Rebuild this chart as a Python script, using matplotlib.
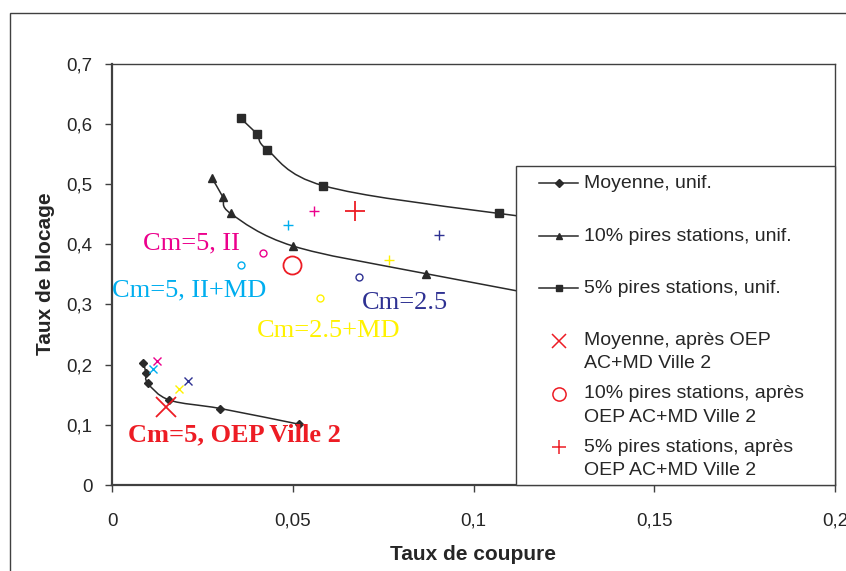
import numpy as np
import matplotlib
matplotlib.use("Agg")
import matplotlib.pyplot as plt
from matplotlib.path import Path
from matplotlib.patches import PathPatch, Rectangle
from matplotlib.lines import Line2D
from matplotlib.ticker import FuncFormatter

# ---------------- data ----------------
moy_x = [0.0087, 0.0094, 0.0099, 0.0159, 0.0300, 0.0517]
moy_y = [0.203, 0.186, 0.169, 0.141, 0.127, 0.101]
p10_x = [0.0276, 0.0306, 0.0328, 0.0500, 0.0868, 0.150]
p10_y = [0.510, 0.479, 0.451, 0.397, 0.351, 0.280]
p5_x = [0.0356, 0.0400, 0.0429, 0.0585, 0.1070, 0.180]
p5_y = [0.609, 0.583, 0.557, 0.497, 0.451, 0.400]

series_labels = ["Moyenne, unif.", "10% pires stations, unif.", "5% pires stations, unif."]
after_labels = ["Moyenne, après OEP\nAC+MD Ville 2",
                "10% pires stations, après\nOEP AC+MD Ville 2",
                "5% pires stations, après\nOEP AC+MD Ville 2"]

# configurations after OEP: (moyenne x, y), (10% x, y), (5% x, y)
cfg_names = ["Cm=5, OEP Ville 2", "Cm=5, II", "Cm=5, II+MD", "Cm=2.5+MD", "Cm=2.5"]
cfg_moy_x = [0.0149, 0.0125, 0.0114, 0.0185, 0.0209]
cfg_moy_y = [0.129, 0.206, 0.193, 0.160, 0.173]
cfg_p10_x = [0.0497, 0.0417, 0.0356, 0.0574, 0.0683]
cfg_p10_y = [0.365, 0.386, 0.365, 0.310, 0.345]
cfg_p5_x = [0.0672, 0.0560, 0.0488, 0.0765, 0.0905]
cfg_p5_y = [0.455, 0.455, 0.431, 0.374, 0.416]
# label anchor (left, baseline) in data units
cfg_lab_x = [0.0045, 0.0086, 0.0000, 0.0400, 0.0691]
cfg_lab_y = [0.072, 0.391, 0.313, 0.246, 0.292]

cfg_colors = ["#ED1C24", "#EC008C", "#00AEEF", "#FFF200", "#2E3192"]
cfg_big = [True, False, False, False, False]

xticks = [0, 0.05, 0.1, 0.15, 0.2]
yticks = [0, 0.1, 0.2, 0.3, 0.4, 0.5, 0.6, 0.7]

# ---------------- figure ----------------
W, H = 846, 571
fig = plt.figure(figsize=(W / 100, H / 100), dpi=100)
ax_l, ax_r, ax_t, ax_b = 112, 835, 63.5, 485
ax = fig.add_axes([ax_l / W, (H - ax_b) / H, (ax_r - ax_l) / W, (ax_b - ax_t) / H])

def px2ax(x, y):
    return (x - ax_l) / (ax_r - ax_l), (ax_b - y) / (ax_b - ax_t)

LINEC = "#2a2a2a"
SPINEC = "#404040"

def smooth_path(xs, ys):
    pts = np.column_stack([xs, ys]).astype(float)
    n = len(pts)
    verts = [pts[0]]
    codes = [Path.MOVETO]
    for i in range(n - 1):
        p0 = pts[i - 1] if i > 0 else pts[i]
        p1 = pts[i]
        p2 = pts[i + 1]
        p3 = pts[i + 2] if i + 2 < n else pts[i + 1]
        c1 = p1 + (p2 - p0) / 6.0
        c2 = p2 - (p3 - p1) / 6.0
        verts += [c1, c2, p2]
        codes += [Path.CURVE4] * 3
    return Path(verts, codes)

for xs, ys, mk, ms in [(moy_x, moy_y, "D", 4.3), (p10_x, p10_y, "^", 6.0), (p5_x, p5_y, "s", 5.5)]:
    ax.add_patch(PathPatch(smooth_path(xs, ys), fill=False, ec=LINEC, lw=1.1, zorder=2))
    ax.plot(xs, ys, ls="none", marker=mk, ms=ms, color=LINEC, mec=LINEC, zorder=3)

for i, c in enumerate(cfg_colors):
    big = cfg_big[i]
    s = 1.0 if not big else 2.3
    lw = 1.0 if not big else 1.3
    ax.plot([cfg_moy_x[i]], [cfg_moy_y[i]], ls="none", marker="x", ms=6 * s, mew=lw, color=c, zorder=4)
    ax.plot([cfg_p10_x[i]], [cfg_p10_y[i]], ls="none", marker="o", ms=5 * (s if not big else 2.6), mew=lw,
            mfc="none", mec=c, zorder=4)
    ax.plot([cfg_p5_x[i]], [cfg_p5_y[i]], ls="none", marker="+", ms=6.5 * s, mew=lw, color=c, zorder=4)
    ax.text(cfg_lab_x[i], cfg_lab_y[i], cfg_names[i], color=c, fontsize=19,
            family="Liberation Serif", fontweight="bold" if big else "normal",
            ha="left", va="baseline", zorder=5)

ax.set_xlim(0, 0.2)
ax.set_ylim(0, 0.7)
ax.set_xticks(xticks)
ax.set_yticks(yticks)
fmt = FuncFormatter(lambda v, p: ("%g" % round(v, 4)).replace(".", ","))
ax.xaxis.set_major_formatter(fmt)
ax.yaxis.set_major_formatter(fmt)
ax.tick_params(axis="both", direction="out", length=5, width=1, color=SPINEC,
               labelsize=13.5, labelcolor="#262626")
ax.tick_params(axis="y", pad=9)
ax.tick_params(axis="x", pad=15)
for lab in ax.get_xticklabels() + ax.get_yticklabels():
    lab.set_family("Liberation Sans")
for side, lw in [("left", 1.6), ("bottom", 1.6), ("top", 1.0), ("right", 1.0)]:
    ax.spines[side].set_color(SPINEC)
    ax.spines[side].set_linewidth(lw)

ax.set_xlabel("Taux de coupure", fontsize=15, fontweight="bold", family="Liberation Sans", color="#262626")
ax.set_ylabel("Taux de blocage", fontsize=15, fontweight="bold", family="Liberation Sans", color="#262626")
ax.xaxis.set_label_coords(*px2ax(473, 555))
ax.xaxis.label.set_va("center")
ax.yaxis.set_label_coords(*px2ax(45, 274))
ax.yaxis.label.set_va("center")

# ---------------- legend (manual, to match row spacing) ----------------
lx0, ly0 = px2ax(516, 166)
ax.add_patch(Rectangle((lx0, 0), 1 - lx0, ly0, transform=ax.transAxes, fc="white",
                       ec=SPINEC, lw=1.0, zorder=10, clip_on=False))
leg_font = dict(fontsize=14, family="Liberation Sans", color="#262626", zorder=12)
rows_single = [183, 236, 288]
for (mk, ms), lab, ry in zip([("D", 3.6), ("^", 5.0), ("s", 4.5)], series_labels, rows_single):
    xa, ya = px2ax(539, ry)
    xb, _ = px2ax(578, ry)
    xm, _ = px2ax(559, ry)
    ax.add_line(Line2D([xa, xb], [ya, ya], color=LINEC, lw=1.1, transform=ax.transAxes, zorder=11, clip_on=False))
    ax.add_line(Line2D([xm], [ya], ls="none", marker=mk, ms=ms, color=LINEC, transform=ax.transAxes,
                       zorder=11, clip_on=False))
    tx, ty = px2ax(584, ry)
    ax.text(tx, ty, lab, transform=ax.transAxes, ha="left", va="center", **leg_font)

rows_double = [(341, 352), (393.5, 405.5), (446.5, 459)]
for (mk, mfc), lab, (my, cy) in zip([("x", None), ("o", "none"), ("+", None)], after_labels, rows_double):
    xm, ym = px2ax(559, my)
    kw = dict(mfc="none", mec="#ED1C24") if mfc == "none" else dict(color="#ED1C24")
    ax.add_line(Line2D([xm], [ym], ls="none", marker=mk, ms=10 if mk != "o" else 9.5, mew=1.1,
                       transform=ax.transAxes, zorder=11, clip_on=False, **kw))
    tx, ty = px2ax(584, cy)
    ax.text(tx, ty, lab, transform=ax.transAxes, ha="left", va="center", linespacing=1.5, **leg_font)

# outer chart border
fig.add_artist(Rectangle((10 / W, -0.2), 1.5, (H - 13) / H + 0.2, transform=fig.transFigure,
                         fill=False, ec=SPINEC, lw=1.0))

fig.savefig("out.png", dpi=100)
